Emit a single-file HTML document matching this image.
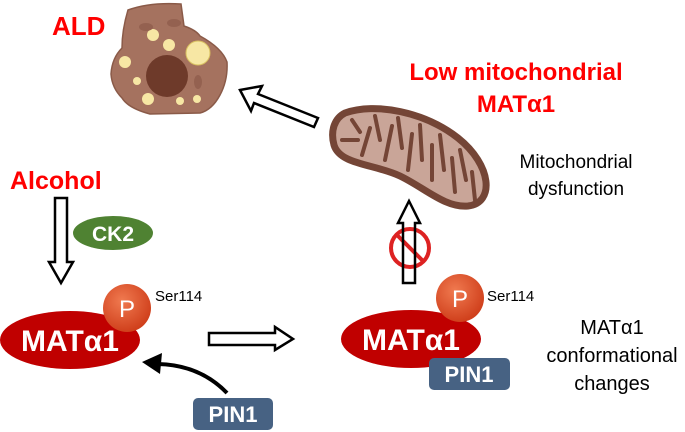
<!DOCTYPE html>
<html><head><style>
body{margin:0;background:#fff}
svg{display:block;font-family:"Liberation Sans",sans-serif}
</style></head><body>
<svg width="685" height="432" viewBox="0 0 685 432" xmlns="http://www.w3.org/2000/svg">
<defs>
<radialGradient id="pg" cx="40%" cy="35%" r="65%"><stop offset="0" stop-color="#f07a50"/><stop offset="1" stop-color="#d0401c"/></radialGradient>
</defs>
<!-- cell -->
<path d="M128 10 Q150 2 181 4 L184 26 Q196 30 200 36 Q222 48 227 62 Q228 80 220 95 Q212 110 200 113 L150 114 Q128 108 122 98 Q112 88 111 74 Q112 58 122 48 Q122 30 128 10 Z" fill="#a5725f" stroke="#8a5a48" stroke-width="1.5"/>
<circle cx="167" cy="76" r="21" fill="#6e3a2a"/>
<circle cx="198" cy="53" r="12" fill="#f7e7a4" stroke="#d8c060"/>
<circle cx="153" cy="35" r="6" fill="#f7e7a4"/>
<circle cx="169" cy="45" r="6" fill="#f7e7a4"/>
<circle cx="125" cy="62" r="6" fill="#f7e7a4"/>
<circle cx="137" cy="81" r="4" fill="#f7e7a4"/>
<circle cx="148" cy="99" r="6" fill="#f7e7a4"/>
<circle cx="180" cy="101" r="4" fill="#f7e7a4"/>
<circle cx="197" cy="99" r="4" fill="#f7e7a4"/>
<ellipse cx="146" cy="27" rx="7" ry="4" fill="#946150"/>
<ellipse cx="174" cy="23" rx="7" ry="4" fill="#946150"/>
<ellipse cx="198" cy="82" rx="4" ry="7" fill="#946150"/>
<text x="52" y="35" font-size="26" font-weight="bold" fill="#f00">ALD</text>
<!-- diagonal arrow -->
<polygon points="240,90 262,86 258,94 318,118 314,127 254,103 251,111" fill="#fff" stroke="#000" stroke-width="2.5"/>
<!-- mitochondrion -->
<path d="M345 113 C375 102 425 112 458 138 C492 165 495 203 468 206 C445 208 425 188 400 176 C375 164 340 165 334 145 C330 130 335 118 345 113 Z" fill="#c9a598" stroke="#744536" stroke-width="7"/>
<g stroke="#744536" stroke-width="4" fill="none" stroke-linecap="round">
<path d="M342 140 L358 140 M352 120 L360 132 M362 155 L370 128 M375 116 L380 140 M385 160 L392 126 M398 118 L402 148 M408 170 L412 134 M420 125 L422 160 M432 180 L432 145 M440 135 L444 170 M455 192 L452 158 M460 150 L466 180 M475 200 L472 172"/>
</g>
<text font-size="24" font-weight="bold" fill="#f00" text-anchor="middle"><tspan x="516" y="80">Low mitochondrial</tspan><tspan x="516" y="112">MATα1</tspan></text>
<text font-size="19" fill="#000" text-anchor="middle"><tspan x="576" y="168">Mitochondrial</tspan><tspan x="576" y="195">dysfunction</tspan></text>
<!-- no symbol + up arrow -->
<circle cx="410" cy="248" r="19" fill="none" stroke="#d22" stroke-width="4"/>
<line x1="397" y1="235" x2="423" y2="261" stroke="#d22" stroke-width="4"/>
<polygon points="403,283 403,223 398,223 409,201 420,223 415,223 415,283" fill="none" stroke="#000" stroke-width="2.5"/>
<!-- alcohol -->
<text x="10" y="189" font-size="25" font-weight="bold" fill="#f00">Alcohol</text>
<polygon points="55,198 55,262 49,262 61,283 73,262 67,262 67,198" fill="#fff" stroke="#000" stroke-width="2.5"/>
<ellipse cx="113" cy="233" rx="40" ry="17" fill="#4f8232"/>
<text x="113" y="241" font-size="21" font-weight="bold" fill="#fff" text-anchor="middle">CK2</text>
<!-- left MAT -->
<ellipse cx="70" cy="340" rx="70" ry="29" fill="#c00000"/>
<circle cx="127" cy="308" r="24" fill="url(#pg)"/>
<text x="127" y="317" font-size="24" fill="#fff" text-anchor="middle">P</text>
<text x="70" y="351" font-size="30" font-weight="bold" fill="#fff" text-anchor="middle">MATα1</text>
<text x="155" y="301" font-size="15" fill="#000">Ser114</text>
<!-- right arrow -->
<polygon points="209,333 275,333 275,327 293,339 275,350 275,345 209,345" fill="#fff" stroke="#000" stroke-width="2.5"/>
<!-- curved arrow -->
<path d="M227 393 Q200 365 158 364" fill="none" stroke="#000" stroke-width="4"/>
<polygon points="142,362 162,353 160,374" fill="#000"/>
<rect x="193" y="398" width="80" height="32" rx="5" fill="#476283"/>
<text x="233" y="422" font-size="22" font-weight="bold" fill="#fff" text-anchor="middle">PIN1</text>
<!-- right MAT -->
<ellipse cx="411" cy="339" rx="70" ry="29" fill="#c00000"/>
<circle cx="460" cy="298" r="24" fill="url(#pg)"/>
<text x="460" y="307" font-size="24" fill="#fff" text-anchor="middle">P</text>
<text x="411" y="350" font-size="30" font-weight="bold" fill="#fff" text-anchor="middle">MATα1</text>
<text x="487" y="301" font-size="15" fill="#000">Ser114</text>
<rect x="429" y="358" width="81" height="32" rx="5" fill="#476283"/>
<text x="469" y="382" font-size="22" font-weight="bold" fill="#fff" text-anchor="middle">PIN1</text>
<text font-size="20" fill="#000" text-anchor="middle"><tspan x="612" y="334">MATα1</tspan><tspan x="612" y="362">conformational</tspan><tspan x="612" y="390">changes</tspan></text>
</svg>
</body></html>
